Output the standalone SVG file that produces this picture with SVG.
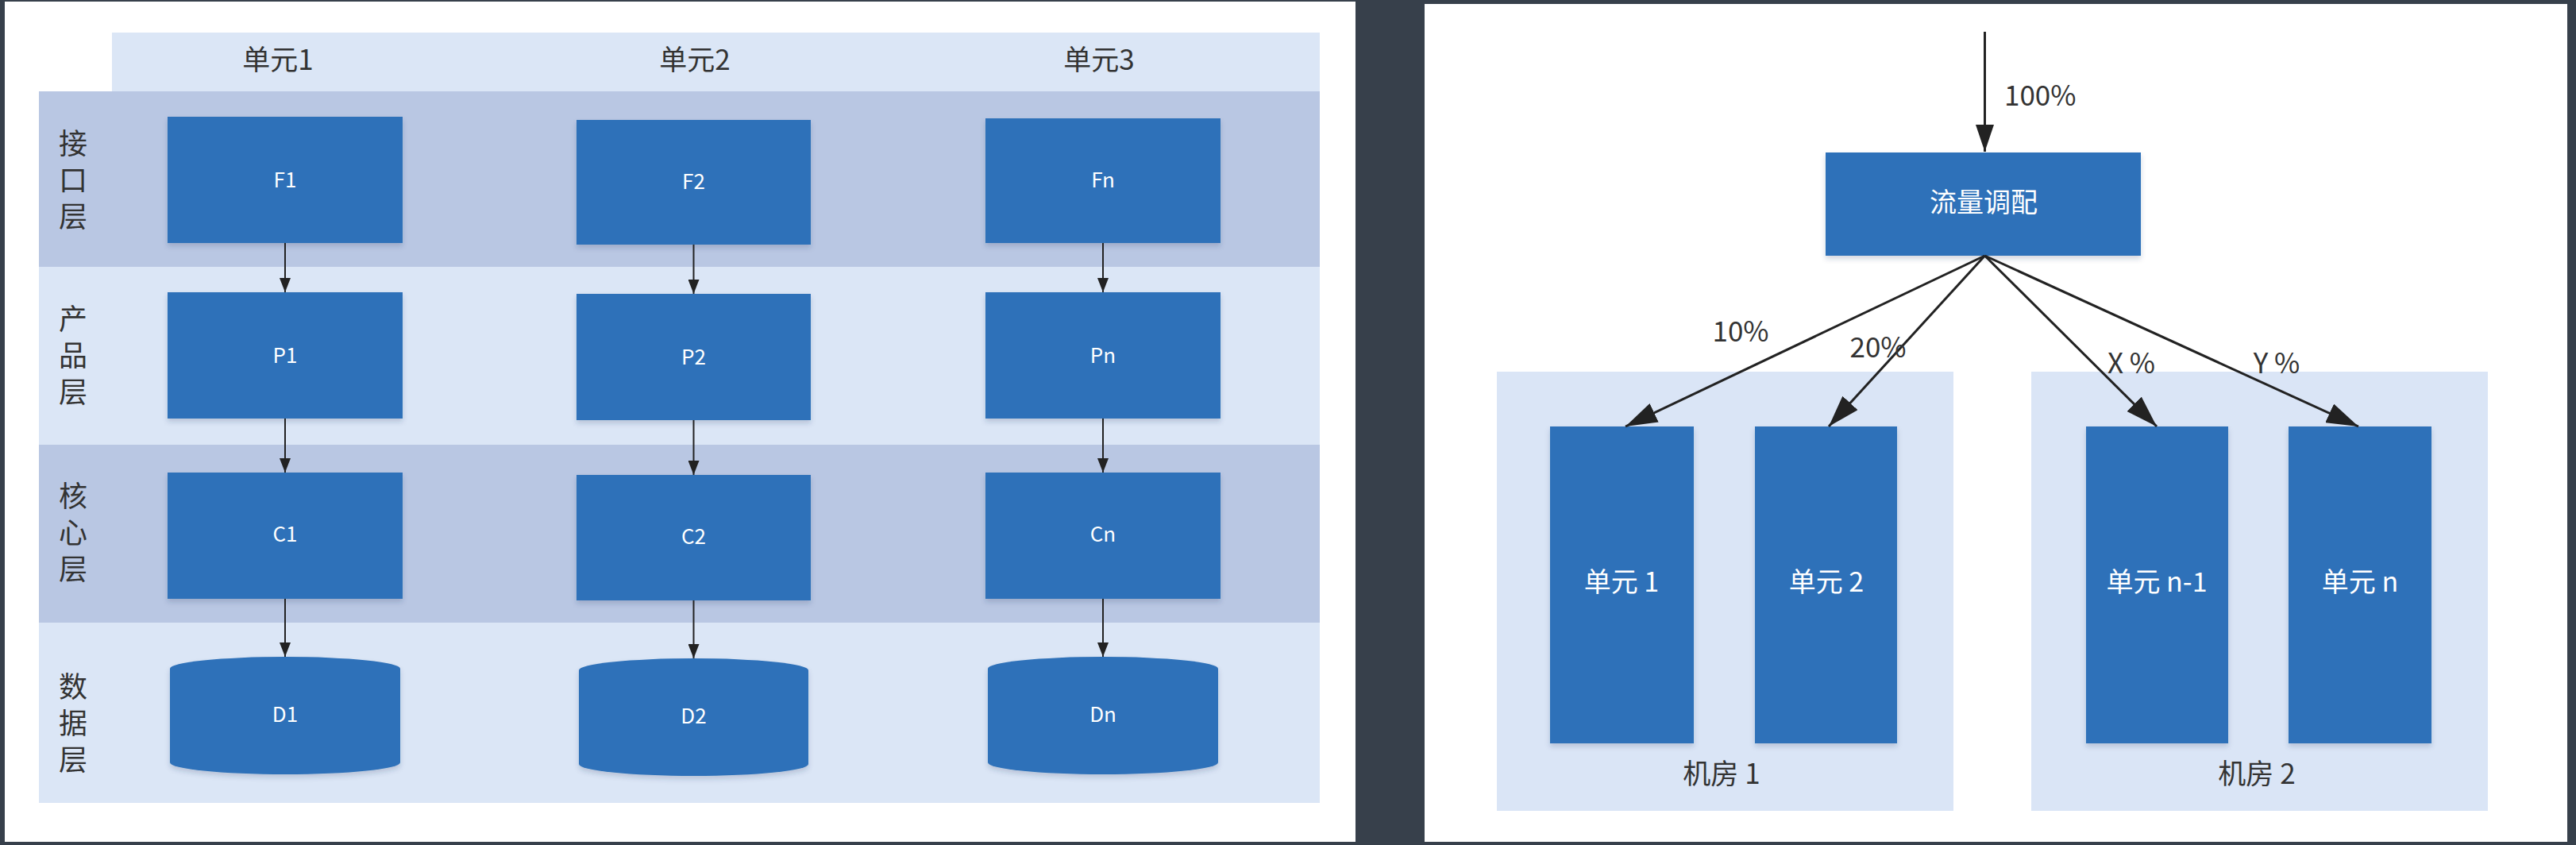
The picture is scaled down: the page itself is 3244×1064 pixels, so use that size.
<svg xmlns="http://www.w3.org/2000/svg" width="3244" height="1064" viewBox="0 0 3244 1064">
<style>
.bg{fill:#37404b}
.panel{fill:#ffffff}
.hdr{fill:#dbe6f6}
.rowd{fill:#b9c7e3}
.rowl{fill:#dbe6f6}
.box{fill:#2e71b9;filter:url(#sh)}
.cont{fill:#dae5f6}
.t{font-family:"Noto Sans CJK SC","Noto Sans",sans-serif}
.lbl{font-size:35px;fill:#333333;text-anchor:middle}
.side{font-size:36px;fill:#333333;text-anchor:middle;writing-mode:vertical-rl;letter-spacing:10px}
.in{font-size:26px;fill:#ffffff;text-anchor:middle}
.inr{font-size:34px;fill:#ffffff;text-anchor:middle}
.pct{font-size:35px;fill:#333333;text-anchor:middle}
.ln{stroke:#222222;stroke-width:2;fill:none}
.lnb{stroke:#222222;stroke-width:3;fill:none}
</style>
<defs>
<filter id="sh" x="-10%" y="-10%" width="120%" height="130%">
<feDropShadow dx="0" dy="4" stdDeviation="3" flood-color="#1a3a60" flood-opacity="0.2"/>
</filter>
<marker id="as" viewBox="0 0 18 14" refX="18" refY="7" markerWidth="18" markerHeight="14" markerUnits="userSpaceOnUse" orient="auto">
<path d="M0,0 L18,7 L0,14 z" fill="#222222"/>
</marker>
<marker id="am" viewBox="0 0 34 23" refX="34" refY="11.5" markerWidth="34" markerHeight="23" markerUnits="userSpaceOnUse" orient="auto">
<path d="M0,0 L34,11.5 L0,23 z" fill="#222222"/>
</marker>
<marker id="ab" viewBox="0 0 40 26" refX="40" refY="13" markerWidth="40" markerHeight="26" markerUnits="userSpaceOnUse" orient="auto">
<path d="M0,0 L40,13 L0,26 z" fill="#222222"/>
</marker>
</defs>

<rect class="bg" x="0" y="0" width="3244" height="1064"/>
<rect class="panel" x="6" y="2" width="1701" height="1058"/>
<rect class="panel" x="1794" y="5" width="1439" height="1055"/>

<g id="left-bands">
<rect class="hdr" x="141" y="41" width="1521" height="74"/>
<rect class="rowd" x="49" y="115" width="1613" height="221"/>
<rect class="rowl" x="49" y="336" width="1613" height="224"/>
<rect class="rowd" x="49" y="560" width="1613" height="224"/>
<rect class="rowl" x="49" y="784" width="1613" height="227"/>
</g>

<g id="headers" class="t">
<text class="lbl" x="350" y="88">单元1</text>
<text class="lbl" x="875" y="88">单元2</text>
<text class="lbl" x="1384" y="88">单元3</text>
</g>

<g id="layer-labels" class="t">
<text class="side" x="92" y="231">接口层</text>
<text class="side" x="92" y="452">产品层</text>
<text class="side" x="92" y="675">核心层</text>
<text class="side" x="92" y="915">数据层</text>
</g>

<g id="F1"><rect class="box" x="211" y="147" width="296" height="159"/><text class="t in" x="359" y="236">F1</text></g>
<g id="P1"><rect class="box" x="211" y="368" width="296" height="159"/><text class="t in" x="359" y="457">P1</text></g>
<g id="C1"><rect class="box" x="211" y="595" width="296" height="159"/><text class="t in" x="359" y="682">C1</text></g>
<g id="D1"><path class="box" d="M214,842 A145,15 0 0 1 504,842 L504,960 A145,15 0 0 1 214,960 Z"/><text class="t in" x="359" y="909">D1</text></g>

<g id="F2"><rect class="box" x="726" y="151" width="295" height="157"/><text class="t in" x="873.5" y="238">F2</text></g>
<g id="P2"><rect class="box" x="726" y="370" width="295" height="159"/><text class="t in" x="873.5" y="459">P2</text></g>
<g id="C2"><rect class="box" x="726" y="598" width="295" height="158"/><text class="t in" x="873.5" y="685">C2</text></g>
<g id="D2"><path class="box" d="M729,844 A144.5,15 0 0 1 1018,844 L1018,962 A144.5,15 0 0 1 729,962 Z"/><text class="t in" x="873.5" y="911">D2</text></g>

<g id="Fn"><rect class="box" x="1241" y="149" width="296" height="157"/><text class="t in" x="1389" y="236">Fn</text></g>
<g id="Pn"><rect class="box" x="1241" y="368" width="296" height="159"/><text class="t in" x="1389" y="457">Pn</text></g>
<g id="Cn"><rect class="box" x="1241" y="595" width="296" height="159"/><text class="t in" x="1389" y="682">Cn</text></g>
<g id="Dn"><path class="box" d="M1244,842 A145,15 0 0 1 1534,842 L1534,960 A145,15 0 0 1 1244,960 Z"/><text class="t in" x="1389" y="909">Dn</text></g>

<g id="room1"><rect class="cont" x="1885" y="468" width="575" height="553"/><text class="t pct" x="2168" y="987">机房 1</text></g>
<g id="room2"><rect class="cont" x="2558" y="468" width="575" height="553"/><text class="t pct" x="2842" y="987">机房 2</text></g>

<g id="dispatch"><rect class="box" x="2299" y="192" width="397" height="130"/><text class="t inr" x="2498" y="267">流量调配</text></g>
<g id="unit1"><rect class="box" x="1952" y="537" width="181" height="399"/><text class="t inr" x="2042" y="745">单元 1</text></g>
<g id="unit2"><rect class="box" x="2210" y="537" width="179" height="399"/><text class="t inr" x="2300" y="745">单元 2</text></g>
<g id="unitn1"><rect class="box" x="2627" y="537" width="179" height="399"/><text class="t inr" x="2716" y="745">单元 n-1</text></g>
<g id="unitn"><rect class="box" x="2882" y="537" width="180" height="399"/><text class="t inr" x="2972" y="745">单元 n</text></g>

<g id="connectors">
<line class="ln" x1="359" y1="306" x2="359" y2="368" marker-end="url(#as)"/>
<line class="ln" x1="359" y1="527" x2="359" y2="595" marker-end="url(#as)"/>
<line class="ln" x1="359" y1="754" x2="359" y2="827" marker-end="url(#as)"/>
<line class="ln" x1="873.5" y1="308" x2="873.5" y2="370" marker-end="url(#as)"/>
<line class="ln" x1="873.5" y1="529" x2="873.5" y2="598" marker-end="url(#as)"/>
<line class="ln" x1="873.5" y1="756" x2="873.5" y2="829" marker-end="url(#as)"/>
<line class="ln" x1="1389" y1="306" x2="1389" y2="368" marker-end="url(#as)"/>
<line class="ln" x1="1389" y1="527" x2="1389" y2="595" marker-end="url(#as)"/>
<line class="ln" x1="1389" y1="754" x2="1389" y2="827" marker-end="url(#as)"/>
<line class="lnb" x1="2499.5" y1="40" x2="2499.5" y2="191" marker-end="url(#am)"/>
<line class="lnb" x1="2499.5" y1="322" x2="2047" y2="537" marker-end="url(#ab)"/>
<line class="lnb" x1="2499.5" y1="322" x2="2303" y2="537" marker-end="url(#ab)"/>
<line class="lnb" x1="2499.5" y1="322" x2="2716" y2="537" marker-end="url(#ab)"/>
<line class="lnb" x1="2499.5" y1="322" x2="2970" y2="537" marker-end="url(#ab)"/>
</g>

<g id="connector-labels" class="t">
<text class="pct" x="2524" y="133" style="text-anchor:start">100%</text>
<text class="pct" x="2192" y="430">10%</text>
<text class="pct" x="2365" y="450">20%</text>
<text class="pct" x="2684" y="470">X %</text>
<text class="pct" x="2867" y="470">Y %</text>
</g>
</svg>
